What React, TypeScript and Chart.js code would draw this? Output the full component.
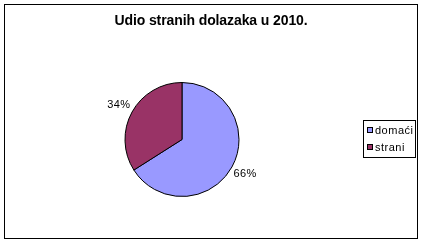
import React, { useEffect, useRef } from "react";
import { Chart, registerables } from "chart.js";

Chart.register(...registerables);

const titleText = "Udio stranih dolazaka u 2010.";
const categories = ["domaći", "strani"];
const shares = [66, 34];
const sliceColors = ["#9999FF", "#993366"];

const FONT = "'Liberation Sans', Arial, sans-serif";

const decorPlugin = {
  id: "decor",
  afterDraw(chart: any) {
    const ctx = chart.ctx as CanvasRenderingContext2D;
    ctx.save();
    // outer frame
    ctx.strokeStyle = "#000";
    ctx.lineWidth = 1;
    ctx.strokeRect(4.5, 4.5, 413, 234);

    // title
    ctx.fillStyle = "#000";
    ctx.font = `bold 14px ${FONT}`;
    (ctx as any).letterSpacing = "-0.1px";
    ctx.textAlign = "center";
    ctx.textBaseline = "middle";
    ctx.fillText(titleText, 211, 21);

    // percentage labels
    const meta = chart.getDatasetMeta(0);
    const data = chart.data.datasets[0].data as number[];
    const total = data.reduce((a, b) => a + b, 0);
    ctx.font = `11px ${FONT}`;
    (ctx as any).letterSpacing = "0.4px";
    meta.data.forEach((arc: any, i: number) => {
      const p = arc.getProps(["x", "y", "startAngle", "endAngle", "outerRadius"], true);
      const mid = (p.startAngle + p.endAngle) / 2;
      const d = p.outerRadius + 15;
      const tx = p.x + Math.cos(mid) * d;
      const ty = p.y + Math.sin(mid) * d;
      const pct = Math.round((data[i] / total) * 100);
      ctx.fillStyle = "#000";
      ctx.fillText(pct + "%", tx, ty);
    });

    // legend
    const lx = 363.5, ly = 120.5, lw = 52, lh = 37;
    ctx.strokeStyle = "#000";
    ctx.strokeRect(lx, ly, lw, lh);
    ctx.textAlign = "left";
    ctx.font = `11px ${FONT}`;
    (ctx as any).letterSpacing = "0.5px";
    const labels = chart.data.labels as string[];
    const colors = chart.data.datasets[0].backgroundColor as string[];
    labels.forEach((lab, i) => {
      const cy = 130 + i * 17;
      ctx.fillStyle = colors[i];
      ctx.fillRect(367, cy - 3, 6, 6);
      ctx.strokeStyle = "#000";
      ctx.strokeRect(367.5, cy - 2.5, 5, 5);
      ctx.fillStyle = "#000";
      ctx.fillText(lab, 375, cy + 0.5);
    });
    (ctx as any).letterSpacing = "0px";
    ctx.restore();
  },
};

export default function App() {
  const ref = useRef<HTMLCanvasElement | null>(null);
  useEffect(() => {
    if (!ref.current) return;
    const chart = new Chart(ref.current, {
      type: "pie",
      data: {
        labels: categories,
        datasets: [
          {
            data: shares,
            backgroundColor: sliceColors,
            borderColor: "#000",
            borderWidth: 1,
          },
        ],
      },
      options: {
        responsive: false,
        animation: false,
        events: [],
        radius: 57,
        layout: { padding: { left: 0, right: 76, top: 35, bottom: 0 } },
        plugins: {
          legend: { display: false },
          title: { display: false },
          tooltip: { enabled: false },
        },
      } as any,
      plugins: [decorPlugin],
    });
    return () => chart.destroy();
  }, []);
  return (
    <div style={{ position: "absolute", left: 0, top: 0, width: 440, height: 244, background: "#fff" }}>
      <canvas ref={ref} width={440} height={244} style={{ display: "block" }} />
    </div>
  );
}
